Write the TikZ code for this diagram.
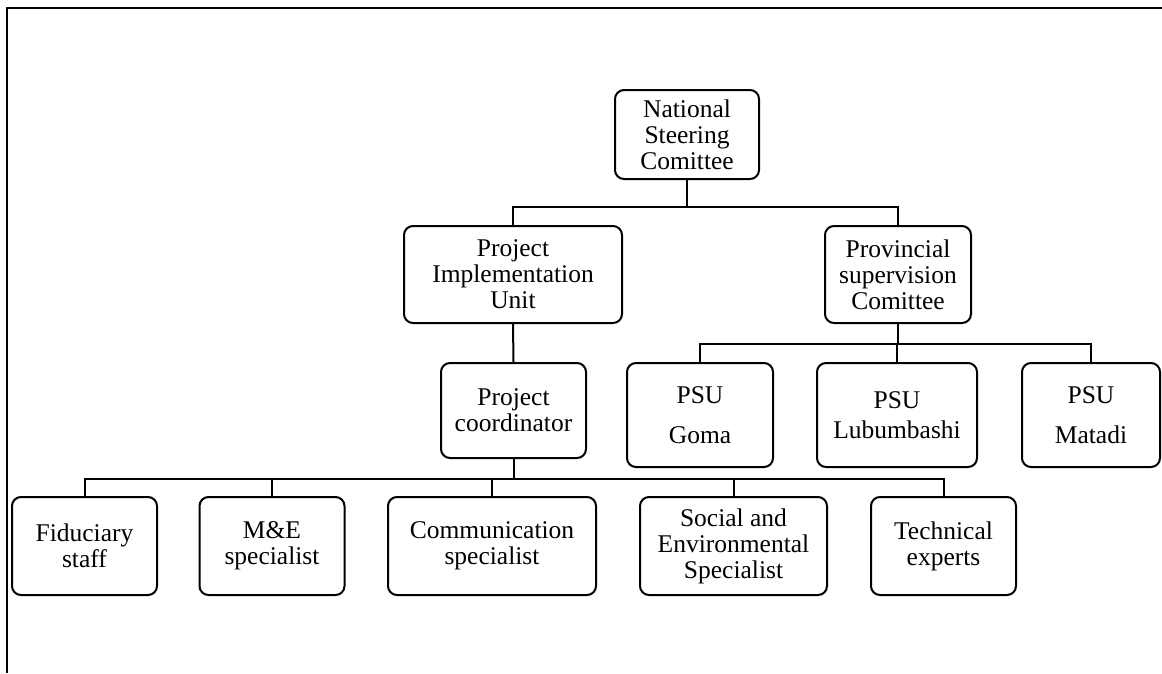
\documentclass[tikz,border=0pt]{standalone}
\usepackage{fontspec}
\setmainfont{Liberation Serif}
\usetikzlibrary{calc}
\begin{document}
\begin{tikzpicture}[x=1pt,y=-1pt,
  orgbox/.style={draw, line width=2pt, rounded corners=9pt, align=center, inner sep=0pt,
     font=\fontsize{25.5}{26}\selectfont},
  link/.style={line width=2pt},
  frameline/.style={line width=2.4pt}]
\useasboundingbox (0,0) rectangle (1162,673);
% frame
\draw[frameline] (7,673) -- (7,8) -- (1162,8);
% top
\node[orgbox, minimum width=144pt, minimum height=89pt] (nsc) at (687,134.5) {National\\Steering\\Comittee};
\node[orgbox, minimum width=218pt, minimum height=97pt] (piu) at (513,274.5) {Project\\Implementation\\Unit};
\node[orgbox, minimum width=146pt, minimum height=97pt] (psc) at (898,274.5) {Provincial\\supervision\\Comittee};
\node[orgbox, minimum width=145pt, minimum height=95pt] (pc) at (513.5,410.5) {Project\\coordinator};
% PSU
\node[orgbox, minimum width=146pt, minimum height=104pt] (goma) at (700,415) {PSU\\[14pt]Goma};
\node[orgbox, minimum width=160pt, minimum height=104pt] (lub) at (897,415) {PSU\\[4pt]Lubumbashi};
\node[orgbox, minimum width=138pt, minimum height=104pt] (mat) at (1091,415) {PSU\\[14pt]Matadi};
% bottom row
\node[orgbox, minimum width=145pt, minimum height=98pt] (fid) at (84.5,546) {Fiduciary\\staff};
\node[orgbox, minimum width=145pt, minimum height=98pt] (me) at (272,546) {M\&E\\specialist};
\node[orgbox, minimum width=208pt, minimum height=98pt] (comm) at (492,546) {Communication\\specialist};
\node[orgbox, minimum width=187pt, minimum height=98pt] (soc) at (733.5,546) {Social and\\Environmental\\Specialist};
\node[orgbox, minimum width=145pt, minimum height=98pt] (tech) at (943.5,546) {Technical\\experts};
% connectors
\coordinate (j1) at ($(nsc.south)+(0,27)$);
\draw[link] (nsc.south) -- (j1);
\draw[link] (piu.north) |- (j1) -| (psc.north);
\draw[link] (piu.south) -- (pc.north);
\coordinate (j2) at ($(psc.south)+(0,20)$);
\draw[link] (psc.south) -- (j2);
\draw[link] (goma.north) |- (j2) -| (mat.north);
\draw[link] (lub.north) -- (lub.north |- j2);
\coordinate (j3) at ($(pc.south)+(0,20)$);
\draw[link] (pc.south) -- (j3);
\draw[link] (fid.north) |- (j3) -| (tech.north);
\draw[link] (me.north) -- (me.north |- j3);
\draw[link] (comm.north) -- (comm.north |- j3);
\draw[link] (soc.north) -- (soc.north |- j3);
\end{tikzpicture}
\end{document}
